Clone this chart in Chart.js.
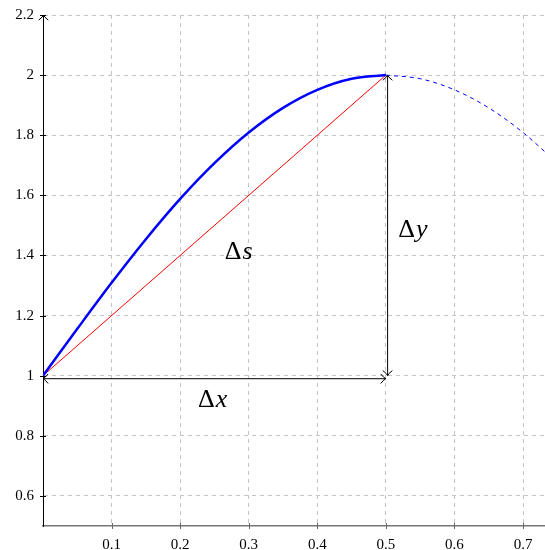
<!DOCTYPE html>
<html>
<head>
<meta charset="utf-8">
<script src="https://cdn.jsdelivr.net/npm/chart.js@4.4.1/dist/chart.umd.min.js"></script>
<style>
  html, body { margin: 0; padding: 0; background: #fff; }
  #wrap { width: 545px; height: 550px; }
</style>
</head>
<body>
<div id="wrap"><canvas id="c"></canvas></div>
<script>
/* Curve: solid part up to the peak, dashed beyond it. */
var curveX = [0, 0.05, 0.1, 0.15, 0.2, 0.25, 0.3, 0.35, 0.4, 0.45, 0.5];
var curveY = [1, 1.156, 1.309, 1.454, 1.588, 1.707, 1.809, 1.891, 1.951, 1.988, 2];
var tailX = [0.5, 0.55, 0.6, 0.65, 0.7, 0.75];
var tailY = [2, 1.988, 1.951, 1.891, 1.809, 1.707];

/* Chord and the two measure arrows (data coordinates). */
var chordX = [0, 0.5];
var chordY = [1, 2];
var dxArrowX = [0, 0.5];
var dxArrowY = [0.99, 0.99];
var dyArrowX = [0.5025, 0.5025];
var dyArrowY = [1, 2];

/* Axis ticks. */
var xTicks = [0.1, 0.2, 0.3, 0.4, 0.5, 0.6, 0.7];
var yTicks = [0.6, 0.8, 1, 1.2, 1.4, 1.6, 1.8, 2, 2.2];

/* Text labels: [letter, x, y] at the baseline-left of the text. */
var deltaLabels = [['s', 0.265, 1.389], ['x', 0.226, 0.897], ['y', 0.518, 1.462]];

function pts(xs, ys) { return xs.map(function (x, i) { return { x: x, y: ys[i] }; }); }

var SERIF = '"Liberation Serif", "DejaVu Serif", serif';

function arrowHead(ctx, x, y, ang) {
  var len = 7, spread = 0.75;
  ctx.beginPath();
  ctx.moveTo(x - len * Math.cos(ang - spread), y - len * Math.sin(ang - spread));
  ctx.quadraticCurveTo(x - 2 * Math.cos(ang - 0.3), y - 2 * Math.sin(ang - 0.3), x, y);
  ctx.quadraticCurveTo(x - 2 * Math.cos(ang + 0.3), y - 2 * Math.sin(ang + 0.3),
    x - len * Math.cos(ang + spread), y - len * Math.sin(ang + spread));
  ctx.stroke();
}

var overlay = {
  id: 'overlay',
  afterDraw: function (chart) {
    var ctx = chart.ctx, xs = chart.scales.x, ys = chart.scales.y, a = chart.chartArea;
    ctx.save();
    // tick marks across the axes
    ctx.lineWidth = 1;
    ctx.strokeStyle = '#666';
    xTicks.forEach(function (v) {
      var px = Math.round(xs.getPixelForValue(v)) + 0.5;
      ctx.beginPath(); ctx.moveTo(px, a.bottom - 3); ctx.lineTo(px, a.bottom + 3); ctx.stroke();
    });
    ctx.strokeStyle = '#000';
    yTicks.forEach(function (v) {
      var py = Math.round(ys.getPixelForValue(v)) + 0.5;
      ctx.beginPath(); ctx.moveTo(a.left - 3, py); ctx.lineTo(a.left + 3, py); ctx.stroke();
    });
    // arrow on the y axis
    arrowHead(ctx, a.left + 0.5, a.top, -Math.PI / 2);
    // heads of the measure arrows
    [[dxArrowX, dxArrowY], [dyArrowX, dyArrowY]].forEach(function (e) {
      var x0 = xs.getPixelForValue(e[0][0]), y0 = ys.getPixelForValue(e[1][0]);
      var x1 = xs.getPixelForValue(e[0][1]), y1 = ys.getPixelForValue(e[1][1]);
      var ang = Math.atan2(y1 - y0, x1 - x0);
      arrowHead(ctx, x1, y1, ang);
      arrowHead(ctx, x0, y0, ang + Math.PI);
    });
    // Δ labels
    ctx.fillStyle = '#000';
    ctx.textBaseline = 'alphabetic';
    deltaLabels.forEach(function (l) {
      var px = xs.getPixelForValue(l[1]), py = ys.getPixelForValue(l[2]);
      ctx.font = '26px ' + SERIF;
      ctx.fillText('\u0394', px, py);
      var w = ctx.measureText('\u0394').width;
      ctx.font = 'italic 26px ' + SERIF;
      ctx.fillText(l[0], px + w + 1, py);
    });
    ctx.restore();
  }
};

function fmt(v) { return String(Number(Number(v).toFixed(1))); }

function noPad(s) { s.paddingTop = 0; s.paddingBottom = 0; s.paddingLeft = 0; s.paddingRight = 0; }

new Chart(document.getElementById('c'), {
  type: 'scatter',
  data: {
    datasets: [
      { data: pts(dxArrowX, dxArrowY), showLine: true, borderColor: '#000', borderWidth: 1, pointRadius: 0, clip: false },
      { data: pts(dyArrowX, dyArrowY), showLine: true, borderColor: '#000', borderWidth: 1, pointRadius: 0, clip: false },
      { data: pts(curveX, curveY), showLine: true, borderColor: '#0000ff', borderWidth: 2.5, pointRadius: 0, cubicInterpolationMode: 'monotone' },
      { data: pts(chordX, chordY), showLine: true, borderColor: '#ff0000', borderWidth: 1, pointRadius: 0 },
      { data: pts(tailX, tailY), showLine: true, borderColor: '#0000ff', borderWidth: 1, borderDash: [4, 4], pointRadius: 0, cubicInterpolationMode: 'monotone' }
    ]
  },
  options: {
    responsive: true,
    maintainAspectRatio: false,
    animation: false,
    layout: { padding: { top: 15, right: 0, left: 0, bottom: 0 } },
    plugins: { legend: { display: false }, tooltip: { enabled: false } },
    scales: {
      x: {
        type: 'linear', min: 0, max: 0.732,
        afterFit: function (s) { s.height = 24; noPad(s); },
        afterBuildTicks: function (s) { s.ticks = xTicks.map(function (v) { return { value: v }; }); },
        grid: { color: '#c4c4c4', lineWidth: 1, drawTicks: false },
        border: { color: '#777', width: 1.5, dash: [4, 4] },
        ticks: { padding: 10, color: '#000', font: { family: SERIF, size: 15 }, maxRotation: 0, callback: fmt }
      },
      y: {
        type: 'linear', min: 0.5, max: 2.2,
        afterFit: function (s) { s.width = 43; noPad(s); },
        afterBuildTicks: function (s) { s.ticks = yTicks.map(function (v) { return { value: v }; }); },
        grid: { color: '#c4c4c4', lineWidth: 1, drawTicks: false },
        border: { color: '#000', width: 1, dash: [4, 4] },
        ticks: { padding: 9, color: '#000', font: { family: SERIF, size: 15 }, callback: fmt }
      }
    }
  },
  plugins: [overlay]
});
</script>
</body>
</html>
